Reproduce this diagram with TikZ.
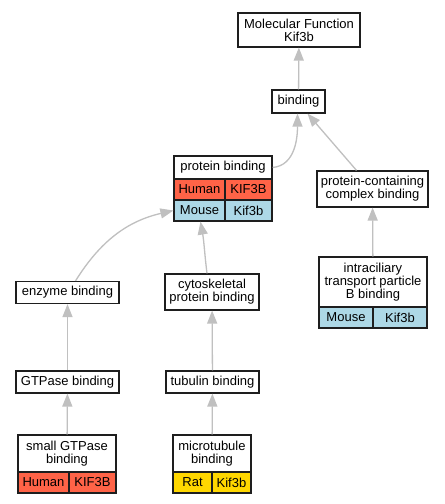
\documentclass[tikz,border=0pt]{standalone}
\usepackage{fontspec}
\setmainfont{Liberation Sans}
\usetikzlibrary{arrows.meta}
\definecolor{edgegray}{RGB}{192,192,192}
\definecolor{human}{RGB}{255,99,71}
\definecolor{mouse}{RGB}{173,216,230}
\definecolor{rat}{RGB}{255,215,0}
\definecolor{border}{RGB}{30,30,30}
\tikzset{
  box/.style={draw=border, line width=1.2pt, fill=white, inner sep=0pt, align=center,
    font=\fontsize{13}{13}\selectfont, minimum width=#1},
  box/.default=60pt,
  link/.style={draw=edgegray, line width=1.3pt, -{Triangle[length=13pt,width=10pt]}},
}
\begin{document}
\begin{tikzpicture}[x=1pt,y=-1pt]
\useasboundingbox[fill=white] (0,0) rectangle (445,504);
% Molecular function
\node[box=122pt, minimum height=34pt] (mf) at (299,30) {Molecular Function\\Kif3b};
\node[box=53pt, minimum height=23pt] (bd) at (298.5,101.5) {binding};
% protein binding table
\node[box=98pt, minimum height=23pt] (pbt) at (223,167.5) {protein binding};
\node[box=51pt, minimum height=21pt, fill=human] (pbh1) at (199.5,189.5) {Human};
\node[box=47pt, minimum height=21pt, fill=human] (pbh2) at (248.5,189.5) {KIF3B};
\node[box=51pt, minimum height=21pt, fill=mouse] (pbm1) at (199.5,210.5) {Mouse};
\node[box=47pt, minimum height=21pt, fill=mouse] (pbm2) at (248.5,210.5) {Kif3b};
% protein-containing complex binding
\node[box=111pt, minimum height=36pt] (pcb) at (372.5,189) {protein-containing\\complex binding};
% intraciliary
\node[box=108pt, minimum height=50pt] (icb) at (373,282) {intraciliary\\transport particle\\B binding};
\node[box=54pt, minimum height=21pt, fill=mouse] (icb1) at (346,317.5) {Mouse};
\node[box=54pt, minimum height=21pt, fill=mouse] (icb2) at (400,317.5) {Kif3b};
% enzyme / cytoskeletal
\node[box=103pt, minimum height=22pt] (eb) at (67.5,292.5) {enzyme binding};
\node[box=94pt, minimum height=36pt] (csb) at (212,292) {cytoskeletal\\protein binding};
% GTPase / tubulin
\node[box=103pt, minimum height=22pt] (gb) at (67.5,382) {GTPase binding};
\node[box=93pt, minimum height=22pt] (tb) at (212.5,382) {tubulin binding};
% small GTPase table
\node[box=98pt, minimum height=37pt] (sg) at (67,453.5) {small GTPase\\binding};
\node[box=51pt, minimum height=21pt, fill=human] (sg1) at (43.5,482.5) {Human};
\node[box=47pt, minimum height=21pt, fill=human] (sg2) at (92.5,482.5) {KIF3B};
% microtubule table
\node[box=78pt, minimum height=37pt] (mt) at (212,453.5) {microtubule\\binding};
\node[box=39pt, minimum height=21pt, fill=rat] (mt1) at (192.5,482.5) {Rat};
\node[box=39pt, minimum height=21pt, fill=rat] (mt2) at (231.5,482.5) {Kif3b};
% connectors
\draw[link] (bd) -- (mf);
\draw[link] (pbt.east) to[out=5,in=-90] ([xshift=-1pt]bd.south);
\draw[link] ([xshift=-16pt]pcb.north) -- ([xshift=9pt]bd.south);
\draw[link] ([xshift=8pt]eb.north) to[out=58,in=193] (pbm1.west);
\draw[link] ([xshift=-5pt]csb.north) to[out=97,in=-80] ([xshift=1pt]pbm1.south);
\draw[link] (icb) -- (pcb);
\draw[link] (gb) -- (eb);
\draw[link] (tb) -- (csb);
\draw[link] (sg) -- (gb);
\draw[link] (mt) -- (tb);
\end{tikzpicture}
\end{document}
